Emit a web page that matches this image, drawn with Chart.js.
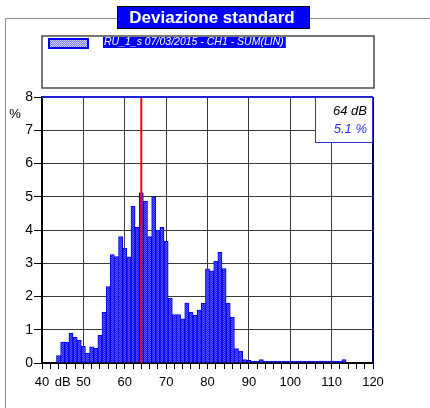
<!DOCTYPE html>
<html>
<head>
<meta charset="utf-8">
<script src="https://cdn.jsdelivr.net/npm/chart.js@4.4.1/dist/chart.umd.min.js"></script>
<style>
  html, body { margin: 0; padding: 0; background: #fff; }
  canvas { display: block; }
</style>
</head>
<body>
<canvas id="devChart" width="430" height="408"></canvas>
<script>
// values
const chartTitle = 'Deviazione standard';
const seriesName = 'RU_1_s 07/03/2015 - CH1 - SUM(LIN)';
const levelsDb = [
  44, 45, 46, 47, 48, 49, 50, 51, 52, 53,
  54, 55, 56, 57, 58, 59, 60, 61, 62, 63,
  64, 65, 66, 67, 68, 69, 70, 71, 72, 73,
  74, 75, 76, 77, 78, 79, 80, 81, 82, 83,
  84, 85, 86, 87, 88, 89, 90, 91, 92, 93,
  94, 95, 96, 97, 98, 99, 100, 101, 102, 103,
  104, 105, 106, 107, 108, 109, 110, 111, 112, 113
];
const percentValues = [
  0.22, 0.63, 0.63, 0.90, 0.77, 0.68, 0.50, 0.29, 0.49, 0.44,
  0.84, 1.53, 2.30, 3.26, 3.20, 3.80, 3.46, 3.19, 4.72, 4.08,
  5.12, 4.86, 3.80, 5.00, 4.00, 4.08, 3.66, 1.95, 1.46, 1.46,
  1.33, 1.80, 1.53, 1.44, 1.59, 1.80, 2.83, 2.77, 3.06, 3.33,
  2.84, 1.80, 1.38, 0.43, 0.36, 0.10, 0.08, 0.05, 0.05, 0.10,
  0.03, 0.03, 0.03, 0.02, 0.03, 0.03, 0.02, 0.03, 0.03, 0.02,
  0.03, 0.02, 0.03, 0.03, 0.02, 0.03, 0.02, 0.03, 0.03, 0.10
];
const markerDb = 64;
const markerPct = 5.1;
const xMin = 40, xMax = 120;
const yMin = 0, yMax = 8;

const FONT = 'Liberation Sans, Arial, sans-serif';

// blue bar fill with light speckles like the original hatch
function makePattern(colors) {
  const c = document.createElement('canvas');
  c.width = 2; c.height = 2;
  const g = c.getContext('2d');
  g.fillStyle = colors[0]; g.fillRect(0, 0, 2, 2);
  g.fillStyle = colors[1]; g.fillRect(0, 0, 1, 1); g.fillRect(1, 1, 1, 1);
  return g.createPattern(c, 'repeat');
}
const barFill = makePattern(['#1c1cff', '#5a5aff']);
const swatchFill = makePattern(['#8080ff', '#d0d0ff']);

const decorations = {
  id: 'decorations',
  beforeDraw(chart) {
    const ctx = chart.ctx;
    ctx.save();
    ctx.fillStyle = '#fff';
    ctx.fillRect(0, 0, chart.width, chart.height);

    // outer frame
    ctx.strokeStyle = '#8c8c8c';
    ctx.lineWidth = 1;
    ctx.beginPath();
    ctx.moveTo(5.5, chart.height);
    ctx.lineTo(5.5, 18.5);
    ctx.lineTo(chart.width, 18.5);
    ctx.stroke();

    // title box
    ctx.fillStyle = '#0000ff';
    ctx.fillRect(117, 6, 193, 23);
    ctx.strokeStyle = '#000';
    ctx.strokeRect(117.5, 6.5, 192, 22);
    ctx.fillStyle = '#fff';
    ctx.font = 'bold 17px ' + FONT;
    ctx.textAlign = 'center';
    ctx.textBaseline = 'alphabetic';
    ctx.fillText(chartTitle, 212, 23);

    // legend box
    ctx.fillStyle = '#fff';
    ctx.fillRect(42, 36, 332, 52);
    ctx.strokeStyle = '#4a4a4a';
    ctx.lineWidth = 1.5;
    ctx.strokeRect(42, 36, 332, 52);
    ctx.fillStyle = swatchFill;
    ctx.fillRect(49, 39, 39, 9);
    ctx.strokeStyle = '#0000ff';
    ctx.lineWidth = 2;
    ctx.strokeRect(49, 39, 39, 9);
    ctx.font = 'italic 10.5px ' + FONT;
    ctx.textAlign = 'left';
    const tw = ctx.measureText(seriesName).width;
    ctx.fillStyle = '#0000ff';
    ctx.fillRect(103, 37, tw + 3, 11);
    ctx.fillStyle = '#fff';
    ctx.fillText(seriesName, 104, 45);

    // unit label of the y axis
    ctx.fillStyle = '#000';
    ctx.font = '13px ' + FONT;
    ctx.textAlign = 'center';
    ctx.fillText('%', 15, 118);
    ctx.restore();
  },
  afterDatasetsDraw(chart) {
    const ctx = chart.ctx;
    const area = chart.chartArea;
    const x = chart.scales.x.getPixelForValue(markerDb);
    ctx.save();
    ctx.strokeStyle = '#ff0000';
    ctx.lineWidth = 2;
    ctx.beginPath();
    ctx.moveTo(x, area.top);
    ctx.lineTo(x, area.bottom);
    ctx.stroke();
    ctx.restore();
  },
  afterDraw(chart) {
    const ctx = chart.ctx;
    const area = chart.chartArea;
    ctx.save();
    // top and right edges of the plot
    ctx.lineWidth = 2;
    ctx.strokeStyle = '#2020d0';
    ctx.beginPath();
    ctx.moveTo(area.left, area.top);
    ctx.lineTo(area.right, area.top);
    ctx.stroke();
    ctx.strokeStyle = '#000060';
    ctx.beginPath();
    ctx.moveTo(area.right, area.top);
    ctx.lineTo(area.right, area.bottom);
    ctx.stroke();

    // value box
    ctx.fillStyle = '#fff';
    ctx.fillRect(area.right - 58, area.top + 1, 57, 44);
    ctx.strokeStyle = '#3535c8';
    ctx.lineWidth = 1;
    ctx.strokeRect(area.right - 58 + 0.5, area.top + 0.5, 57, 45);
    ctx.font = 'italic 13px ' + FONT;
    ctx.textAlign = 'right';
    ctx.fillStyle = '#000';
    ctx.fillText(markerDb + ' dB', area.right - 6, area.top + 18);
    ctx.fillStyle = '#2a2aff';
    ctx.fillText(markerPct.toFixed(1) + ' %', area.right - 6, area.top + 36);
    ctx.restore();
  }
};

new Chart('devChart', {
  type: 'bar',
  data: {
    datasets: [{
      label: seriesName,
      data: levelsDb.map((x, i) => ({ x: x, y: percentValues[i] })),
      backgroundColor: barFill,
      borderColor: '#0000e6',
      borderWidth: 1,
      borderSkipped: 'bottom',
      minBarLength: 2,
      categoryPercentage: 1,
      barPercentage: 1
    }]
  },
  options: {
    responsive: false,
    devicePixelRatio: 1,
    animation: false,
    layout: { padding: { top: 97, right: 57, left: 0, bottom: 0 } },
    plugins: {
      legend: { display: false },
      tooltip: { enabled: false }
    },
    scales: {
      x: {
        type: 'linear',
        min: xMin, max: xMax,
        offset: false,
        grid: {
          offset: false,
          color: ctx => (ctx.tick && ctx.tick.value % 10 === 0) ? '#3a3a3a' : 'rgba(0,0,0,0)',
          tickColor: ctx => (ctx.tick && ctx.tick.value % 2 === 0) ? '#000' : 'rgba(0,0,0,0)',
          tickLength: 6
        },
        border: { color: '#000', width: 2 },
        ticks: {
          stepSize: 1,
          autoSkip: false,
          maxRotation: 0,
          padding: 6,
          color: '#000',
          font: { family: FONT, size: 13 },
          callback: v => v % 10 === 0 ? String(v) : (v === 45 ? 'dB' : '')
        },
        afterFit: s => { s.height = 45; }
      },
      y: {
        min: yMin, max: yMax,
        grid: { color: '#3a3a3a', tickColor: '#000', tickLength: 8 },
        border: { color: '#000', width: 2 },
        ticks: {
          stepSize: 1,
          padding: 1,
          color: '#000',
          font: { family: FONT, size: 14 }
        },
        afterFit: s => { s.width = 42; }
      }
    }
  },
  plugins: [decorations]
});
</script>
</body>
</html>
